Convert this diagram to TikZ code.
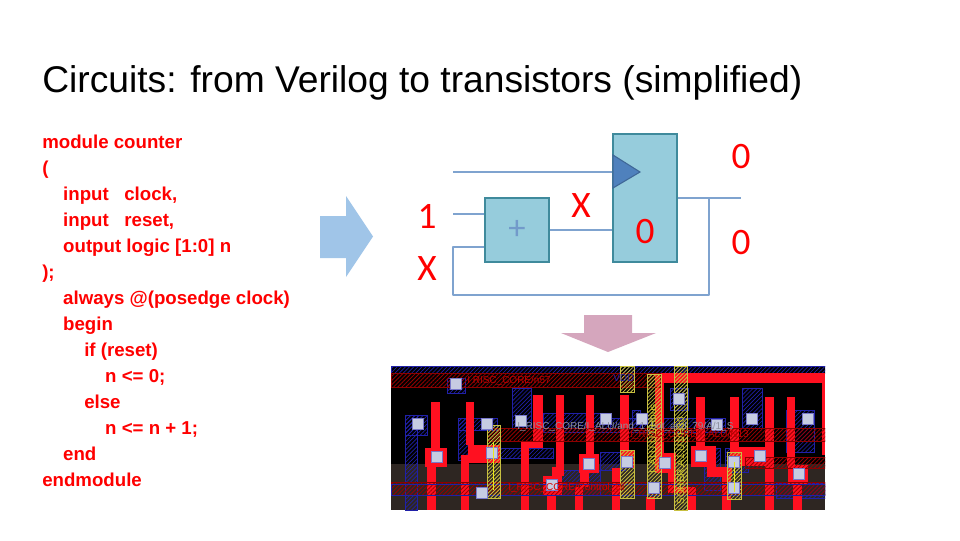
\documentclass[tikz,border=0pt]{standalone}
\usepackage{fontspec}
\setmainfont{Liberation Sans}
\newfontfamily\calibri{Carlito}
\usetikzlibrary{patterns.meta}
\definecolor{wireblue}{HTML}{7FA3CF}
\definecolor{clockblue}{HTML}{4F81BD}
\definecolor{boxfill}{HTML}{96CCDC}
\definecolor{boxedge}{HTML}{3F8A9C}
\definecolor{polyred}{HTML}{FF1020}
\definecolor{metalblue}{HTML}{2020A8}
\definecolor{viagrey}{HTML}{C6CCE2}
\definecolor{strapyellow}{HTML}{C8C040}
\definecolor{arrowblue}{HTML}{A0C5E8}
\definecolor{arrowpink}{HTML}{D5A6BD}
\definecolor{wellbrown}{HTML}{2E2622}

\begin{document}
\begin{tikzpicture}[x=0.75pt,y=-0.75pt]
    \tikzstyle{logic}=[draw=boxedge,line width=1.5pt,fill=boxfill,inner sep=0pt]
    \tikzstyle{wire}=[draw=wireblue,line width=1.3pt]
    \tikzstyle{val}=[text=red,font=\calibri\fontsize{28pt}{28pt}\selectfont,inner sep=0pt]
    \tikzstyle{poly}=[fill=polyred]
    \tikzstyle{metal}=[draw=metalblue,line width=0.5pt,pattern={Lines[angle=45,distance=2.2pt,line width=0.5pt]},pattern color=metalblue]
    \tikzstyle{redband}=[draw=red!55!black,line width=0.5pt,pattern={Lines[angle=45,distance=2.2pt,line width=0.6pt]},pattern color=red!60!black]
    \tikzstyle{strap}=[draw=strapyellow,line width=0.7pt,pattern={Lines[angle=45,distance=2pt,line width=0.6pt]},pattern color=strapyellow]
    \tikzstyle{via}=[fill=viagrey,draw=metalblue!60,line width=0.3pt]
    \tikzstyle{nettext}=[inner sep=0pt,anchor=west,font=\fontsize{7.5pt}{8pt}\selectfont]
    \tikzstyle{straptext}=[inner sep=0pt,anchor=east,rotate=90,text=yellow!80!black,font=\fontsize{7.5pt}{8pt}\selectfont]
    \useasboundingbox (0,0) rectangle (960,540);

    \node (title)[anchor=base west,inner sep=0pt,font=\fontsize{27.9pt}{30pt}\selectfont] at (42,92)
        {Circuits: from Verilog to transistors (simplified)};
    \node (code)[anchor=north west,inner sep=0pt,align=left,text=red,font=\bfseries\fontsize{14pt}{19.5pt}\selectfont] at (42,135) {%
        module counter\\
        (\\
        \hspace*{15.7pt}input \ \ clock,\\
        \hspace*{15.7pt}input \ \ reset,\\
        \hspace*{15.7pt}output logic [1:0] n\\
        );\\
        \hspace*{15.7pt}always @(posedge clock)\\
        \hspace*{15.7pt}begin\\
        \hspace*{31.5pt}if (reset)\\
        \hspace*{47.2pt}n <= 0;\\
        \hspace*{31.5pt}else\\
        \hspace*{47.2pt}n <= n + 1;\\
        \hspace*{15.7pt}end\\
        endmodule};

    % block arrows
    \fill[arrowblue] (320,216) -- (346,216) -- (346,196) -- (373,236.5) -- (346,277) -- (346,258) -- (320,258) -- cycle;
    \fill[arrowpink] (584,315) -- (632,315) -- (632,333) -- (656,333) -- (608,352) -- (561,333) -- (584,333) -- cycle;

    % counter
    \node (reg)[logic,minimum width=48pt,minimum height=96pt] at (645,198) {};
    \node (adder)[logic,minimum width=48pt,minimum height=48pt] at (517,230) {};
    \coordinate (clkin) at (453,172);
    \coordinate (onein) at (453,214);
    \coordinate (loopa) at (453,247);
    \coordinate (loopb) at (453,295);
    \coordinate (loopc) at (709,295);
    \coordinate (tap) at (709,198);
    \coordinate (out) at (741,198);
    \draw[wire] (clkin) -- (clkin -| reg.west);
    \draw[wire] (onein) -- (onein -| adder.west);
    \draw[wire] (adder.east) -- (adder.east -| reg.west);
    \draw[wire] (reg.east |- out) -- (out);
    \draw[wire,line join=round] (loopa -| adder.west) -- (loopa) -- (loopb) -- (loopc) -- (tap);
    \draw[fill=clockblue,draw=clockblue!80!black,line width=0.8pt] (613,155) -- (640,172) -- (613,188) -- cycle;
    \node (plus)[inner sep=0pt,text=clockblue!80!white,font=\calibri\fontsize{26pt}{26pt}\selectfont] at (adder.center) {+};
    \node (regval)[val] at (645,232) {0};
    \node (qa)[val] at (741,157) {0};
    \node (qb)[val] at (741,243) {0};
    \node (cin)[val] at (427,216) {1};
    \node (nin)[val] at (427,269) {X};
    \node (dval)[val] at (581,206) {X};

    % layout
    \begin{scope}
    \clip (391,366) rectangle (825,510);
    \fill[black] (391,366) rectangle (825,510);
    \fill[wellbrown] (391,464) rectangle (825,510);
    \foreach \xa/\ya/\xb/\yb in {391/366/825/373,405/415/427/435,405/415/417/510,447/378/465/393,512/388/531/428,
        458/418/497/430,458/418/470/460,483/448/553/458,543/413/610/432,610/418/725/432,
        632/410/640/428,704/448/720/490,725/448/748/472,786/410/814/452,742/388/762/428,
        670/388/688/410,776/483/825/498,600/452/625/470,560/470/600/495}
        \draw[metal] (\xa,\ya) rectangle (\xb,\yb);
    \foreach \xa/\ya/\xb/\yb in {431/402/440/448,425/448/447/467,427/467/436/510,466/402/474/445,
        468/445/500/463,461/455/469/510,533/395/543/442,521/442/543/448,521/448/529/510,
        556/395/564/467,552/467/564/476,543/476/562/495,547/495/556/510,586/395/594/454,
        579/454/599/473,580/473/589/487,575/487/583/510,620/395/629/450,620/450/634/468,
        612/468/620/510,655/373/664/453,655/453/676/473,668/473/676/493,668/487/696/493,
        688/493/696/510,646/497/655/510,696/397/705/447,691/446/716/467,707/467/732/477,
        722/477/731/510,730/397/739/447,730/447/770/466,765/397/774/510,787/397/795/466,
        788/465/808/484,793/484/802/510,660/373/825/383,822/383/825/455}
        \fill[poly] (\xa,\ya) rectangle (\xb,\yb);
    \foreach \xa/\ya/\xb/\yb in {391/373/660/387,487/428/825/441,391/482/825/495,745/457/825/468}
        \draw[redband] (\xa,\ya) rectangle (\xb,\yb);
    \draw[draw=metalblue,line width=0.5pt] (391,484) rectangle (825,495);
    \foreach \xa/\ya/\xb/\yb in {487/425/500/498,620/366/634/392,620/450/634/498,647/374/661/498,
        674/366/687/510,727/452/741/499}
        \draw[strap] (\xa,\ya) rectangle (\xb,\yb);
    \foreach \xc/\yc in {418/424,456/384,487/424,521/421,437/457,492/453,482/493,552/485,589/464,
        606/419,642/419,679/399,717/425,752/419,808/419,627/462,665/463,701/456,734/462,760/456,
        799/474,654/488,734/488}
        \draw[via] (\xc-5.5,\yc-5.5) rectangle (\xc+5.5,\yc+5.5);
    \draw[strapyellow!40!yellow,line width=0.6pt] (493,442) -- (493,490);
    \draw[strapyellow!40!yellow,line width=0.6pt] (734,462) -- (734,492);
    \node (netn)[nettext,text=red!75!black] at (467,381) {I RISC\_CORE/n57};
    \node (netalu)[nettext,text=viagrey!70!black] at (517,427) {I\_RISC\_CORE/I\_ALU/and\_1\_bot\_and\_79/A/1\_S};
    \node (netnt)[nettext,text=red!75!black] at (630,435) {I\_RISC\_CORE/I\_ALU/N13};
    \node (netlow)[nettext,text=red!85!black] at (508,488) {I\_RISC\_CORE/Control\_Bl};
    \node (netvdd)[nettext,text=metalblue] at (613,378) {VDD};
    \node (netsoc)[straptext] at (680.5,417) {SOHER.A1.U1/H30};
    \node (netbus)[straptext] at (653.5,404) {I\_ALU.U1/Hbus};
    \end{scope}
\end{tikzpicture}
\end{document}
